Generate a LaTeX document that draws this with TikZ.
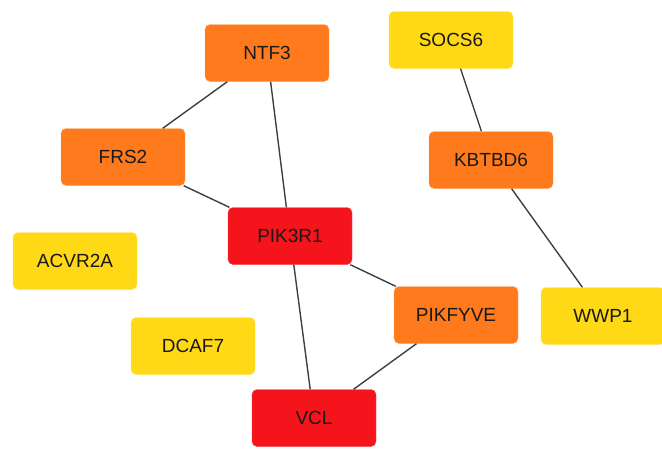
\documentclass[tikz,border=0pt]{standalone}
\usepackage{fontspec}
\setmainfont{Liberation Sans}
\usepackage{tikz}
\usetikzlibrary{calc}
\usetikzlibrary{positioning}

\definecolor{hubred}{HTML}{F5141C}
\definecolor{midorange}{HTML}{FF7A1C}
\definecolor{lowyellow}{HTML}{FFD816}
\definecolor{edgegray}{HTML}{3C4046}

\begin{document}
\begin{tikzpicture}[x=1pt,y=-1pt]
\tikzstyle{box}=[rectangle,rounded corners=5pt,align=center,minimum width=124pt,minimum height=57pt,font=\fontsize{19}{21}\selectfont,text=black!90]
\tikzstyle{hub}=[box,fill=hubred,draw=hubred!80!white]
\tikzstyle{mid}=[box,fill=midorange,draw=midorange!70!white]
\tikzstyle{low}=[box,fill=lowyellow,draw=lowyellow!70!white]
\tikzstyle{link}=[draw=edgegray,line width=1.4pt]
\useasboundingbox (0, 0) rectangle (662, 451);
\node[mid] at(267, 53) (ntf3) {NTF3};
\node[low] at(451, 40) (socs6) {SOCS6};
\node[mid] at(123, 157) (frs2) {FRS2};
\node[mid] at(491, 160) (kbtbd6) {KBTBD6};
\node[hub] at(290, 236) (pik3r1) {PIK3R1};
\node[low] at(75, 261) (acvr2a) {ACVR2A};
\node[mid] at(456, 315) (pikfyve) {PIKFYVE};
\node[low] at(603, 316) (wwp1) {WWP1};
\node[low] at(193, 346) (dcaf7) {DCAF7};
\node[hub] at(314, 418) (vcl) {VCL};
\draw[link] (ntf3) -- (frs2);
\draw[link] (ntf3) -- (pik3r1);
\draw[link] (frs2) -- (pik3r1);
\draw[link] (pik3r1) -- (vcl);
\draw[link] (pik3r1) -- (pikfyve);
\draw[link] (pikfyve) -- (vcl);
\draw[link] (socs6) -- (kbtbd6);
\draw[link] (kbtbd6) -- (wwp1);
\end{tikzpicture}
\end{document}
